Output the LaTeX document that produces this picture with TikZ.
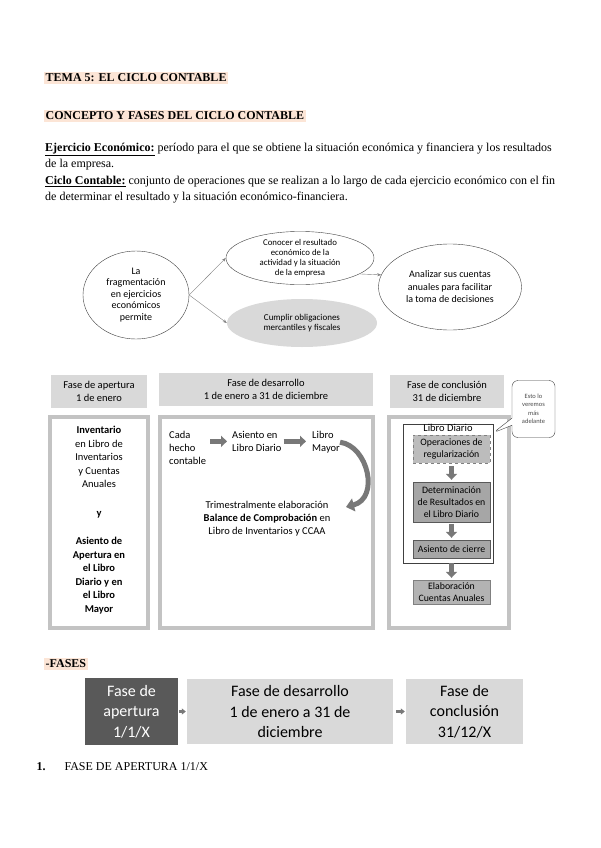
\documentclass[tikz,border=0pt]{standalone}
\usepackage{fontspec}
\setmainfont{Liberation Serif}
\newfontfamily\calibri{Carlito}
\usetikzlibrary{shapes.geometric,shapes.callouts,arrows.meta}

\definecolor{resalte}{RGB}{252,229,214}
\definecolor{grisclaro}{RGB}{217,217,217}
\definecolor{grismedio}{RGB}{166,166,166}
\definecolor{grisoscuro}{RGB}{89,89,89}
\definecolor{grisflecha}{RGB}{120,120,120}
\definecolor{grisborde}{RGB}{195,195,195}

\begin{document}
\begin{tikzpicture}[x=1pt,y=-1pt]
    % Eje y invertido (y=-1pt): las posiciones se leen como en la pagina,
    % de arriba hacia abajo, 1pt por pixel.
    \tikzset{
      titulo/.style={anchor=west,fill=resalte,inner sep=1.5pt,
        font={\fontsize{12}{14}\selectfont\bfseries}},
      parrafo/.style={anchor=west,align=left,inner sep=0pt,
        font={\fontsize{12}{16.5}\selectfont}},
      elipse/.style={ellipse,draw=black!75,inner sep=0pt,align=center},
      conector/.style={draw=gray,thin,-{Stealth[length=4pt,width=3pt]}},
      cabecera/.style={fill=grisclaro,align=center,inner sep=0pt,
        font={\calibri\fontsize{10.5}{13}\selectfont}},
      marco/.style={draw=grisborde,line width=3.5pt},
      texto/.style={align=center,inner sep=0pt,
        font={\calibri\fontsize{10.5}{13}\selectfont}},
      paso/.style={draw=black!65,fill=grismedio,align=center,inner sep=1pt,
        minimum width=77pt,font={\calibri\fontsize{9.8}{12}\selectfont}},
      bloque/.style={draw=grisflecha,line width=4.5pt,
        -{Triangle[width=11pt,length=6pt]}},
      fase/.style={align=center,inner sep=0pt,
        font={\calibri\fontsize{16}{20.5}\selectfont}},
      flechita/.style={draw=grisflecha,line width=2.5pt,
        -{Triangle[width=6pt,length=4pt]}}}
    \useasboundingbox (0,0) rectangle (600,848);
    \fill[white] (0,0) rectangle (600,848);

    % Titulos y definiciones
    \node[titulo] (tema) at (44,78) {TEMA 5: EL CICLO CONTABLE};
    \node[titulo] (concepto) at (44,116) {CONCEPTO Y FASES DEL CICLO CONTABLE};
    \node[parrafo] (definiciones) at (45,173) {%
      \underline{\textbf{Ejercicio Económico:}} período para el que se obtiene la situación económica y financiera y los resultados\\
      de la empresa.\\
      \underline{\textbf{Ciclo Contable:}} conjunto de operaciones que se realizan a lo largo de cada ejercicio económico con el fin\\
      de determinar el resultado y la situación económico-financiera.};

    % Elipses: finalidad de la fragmentacion
    \node[elipse,minimum width=106pt,minimum height=88pt,
      font={\calibri\fontsize{10}{11.5}\selectfont}] (fragmentacion) at (136,295)
      {La\\fragmentación\\en ejercicios\\económicos\\permite};
    \node[elipse,minimum width=148pt,minimum height=52pt,
      font={\calibri\fontsize{8.8}{10}\selectfont}] (conocer) at (300,258)
      {Conocer el resultado\\económico de la\\actividad y la situación\\de la empresa};
    \node[ellipse,fill=grisclaro,inner sep=0pt,align=center,minimum width=150pt,
      minimum height=48pt,font={\calibri\fontsize{9}{10.5}\selectfont}] (cumplir) at (302,323)
      {Cumplir obligaciones\\mercantiles y fiscales};
    \node[elipse,minimum width=143pt,minimum height=86pt,
      font={\calibri\fontsize{10}{12.5}\selectfont}] (analizar) at (450,287)
      {Analizar sus cuentas\\anuales para facilitar\\la toma de decisiones};
    \draw[conector] (fragmentacion.east) -- (conocer.west);
    \draw[conector] (fragmentacion.east) -- (cumplir.west);
    \draw[conector] (conocer.-15) -- (analizar.170);

    % Cabeceras de las tres fases
    \node[cabecera,minimum width=96pt,minimum height=33pt] (cabApertura) at (99,391)
      {Fase de apertura\\1 de enero};
    \node[cabecera,minimum width=214pt,minimum height=33pt] (cabDesarrollo) at (266,389)
      {Fase de desarrollo\\1 de enero a 31 de diciembre};
    \node[cabecera,minimum width=114pt,minimum height=33pt] (cabConclusion) at (447,391)
      {Fase de conclusión\\31 de diciembre};
    \draw[marco] (50,417) rectangle (148,628);
    \draw[marco] (160,417) rectangle (373,628);
    \draw[marco] (389,417) rectangle (509,628);

    % Fase de apertura
    \node[texto,font={\calibri\fontsize{10.5}{13.5}\selectfont}] (inventario) at (99,520) {%
      \textbf{Inventario}\\en Libro de\\Inventarios\\y Cuentas\\Anuales\\[15pt]
      \textbf{y}\\[15pt]
      \textbf{Asiento de}\\\textbf{Apertura en}\\\textbf{el Libro}\\
      \textbf{Diario y en}\\\textbf{el Libro}\\\textbf{Mayor}};

    % Fase de desarrollo
    \node[texto,anchor=north west,align=left] (hecho) at (169,431) {Cada\\hecho\\contable};
    \node[texto,anchor=north west,align=left] (asiento) at (232,431) {Asiento en\\Libro Diario};
    \node[texto,anchor=north west,align=left] (mayor) at (312,431) {Libro\\Mayor};
    \node[texto] (trimestral) at (267,519) {Trimestralmente elaboración\\
      \textbf{Balance de Comprobación} en\\Libro de Inventarios y CCAA};
    \coordinate (finCurva) at (346,507);
    \draw[bloque,shorten <=4pt,shorten >=5pt] (hecho.east |- asiento.west) -- (asiento.west);
    \draw[bloque,shorten <=2pt,shorten >=6pt] (asiento.east) -- (mayor.west |- asiento.east);
    \draw[draw=grisflecha,line width=5pt,-{Triangle[width=13pt,length=8pt]}]
      (mayor.east) .. controls (368,446) and (380,498) .. (finCurva);

    % Fase de conclusion
    \node[draw=black!75,minimum width=90pt,minimum height=139pt,inner sep=0pt] (libroDiario) at (448,493.5) {};
    \node[texto,anchor=north] (etiquetaLibro) at (libroDiario.north) {Libro Diario};
    \node[paso,dashed,draw=gray,fill=grismedio!75,minimum height=28pt] (regularizacion) at (451.5,449)
      {Operaciones de\\regularización};
    \node[paso,minimum height=40pt] (determinacion) at (451.5,502)
      {Determinación\\de Resultados en\\el Libro Diario};
    \node[paso,minimum height=18pt] (cierre) at (451.5,549) {Asiento de cierre};
    \node[paso,draw=gray,fill=grismedio!85,minimum height=24pt] (elaboracion) at (451.5,592)
      {Elaboración\\Cuentas Anuales};
    \draw[bloque,shorten <=3pt,shorten >=2pt] (regularizacion) -- (determinacion);
    \draw[bloque,shorten <=2pt,shorten >=2pt] (determinacion) -- (cierre);
    \draw[bloque,shorten <=5pt,shorten >=2pt] (cierre) -- (elaboracion);
    \node[rectangle callout,draw=black!75,rounded corners=6pt,fill=white,align=center,
      minimum width=43pt,minimum height=57pt,inner sep=1pt,text=black!70,
      font={\calibri\fontsize{6.5}{8.5}\selectfont},
      callout absolute pointer={([yshift=-9pt]libroDiario.north east)}] (masAdelante) at (533.5,409)
      {Esto lo\\veremos\\más\\adelante};

    % Fases resumidas
    \node[titulo] (fases) at (44,664) {-FASES};
    \node[fase,fill=grisoscuro,text=white,minimum width=93pt,minimum height=67pt] (fApertura) at (131.5,711.5)
      {Fase de\\apertura\\1/1/X};
    \node[fase,fill=grisclaro,minimum width=206pt,minimum height=65pt] (fDesarrollo) at (290,711.5)
      {Fase de desarrollo\\1 de enero a 31 de\\diciembre};
    \node[fase,fill=grisclaro,minimum width=117pt,minimum height=65pt] (fConclusion) at (464.5,711.5)
      {Fase de\\conclusión\\31/12/X};
    \draw[flechita,shorten <=1pt,shorten >=1pt] (fApertura) -- (fDesarrollo);
    \draw[flechita,shorten <=3pt,shorten >=1pt] (fDesarrollo) -- (fConclusion);
    \node[anchor=west,font={\fontsize{12}{14}\selectfont}] (numero) at (33,767) {\textbf{1.}};
    \node[anchor=west,font={\fontsize{12}{14}\selectfont}] (apertura) at (61,767) {FASE DE APERTURA 1/1/X};
  \end{tikzpicture}
\end{document}
